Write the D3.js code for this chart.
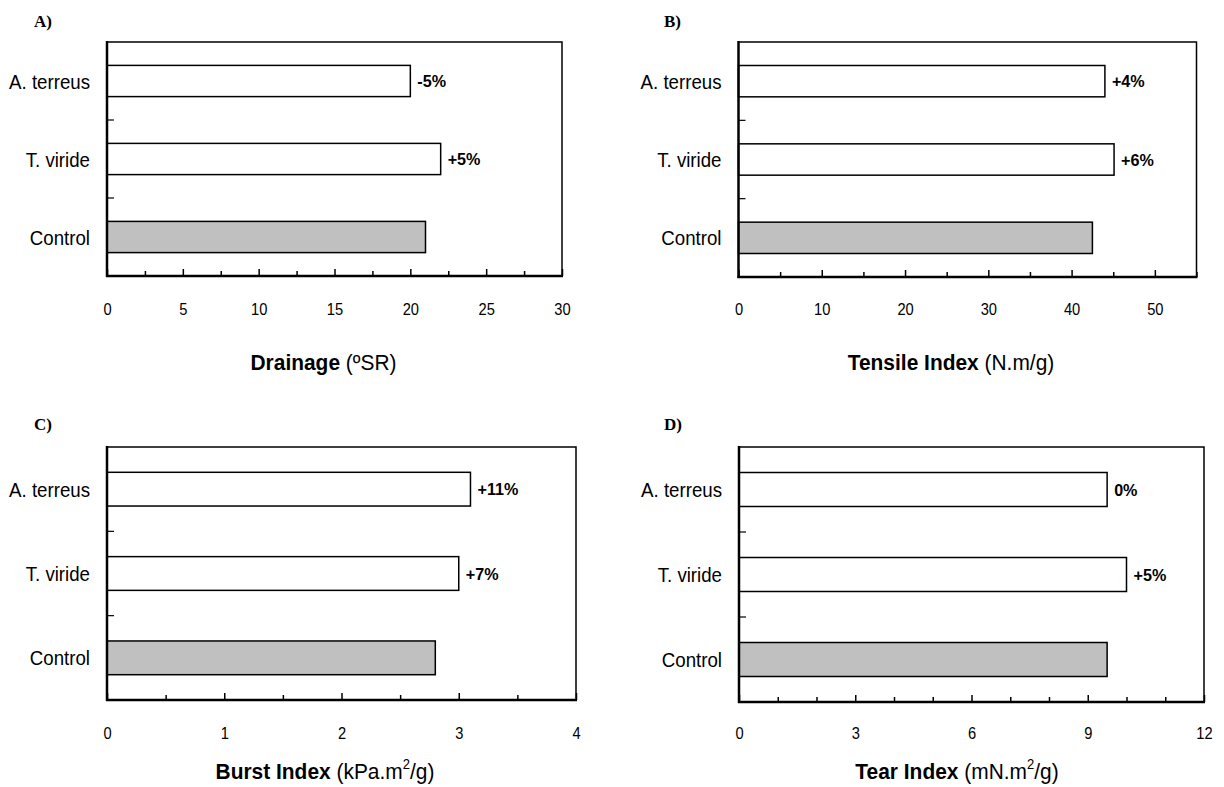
<!DOCTYPE html>
<html>
<head>
<meta charset="utf-8">
<script src="https://cdn.jsdelivr.net/npm/d3@7"></script>
<style>
  html, body { margin: 0; padding: 0; background: #fff; }
  svg { display: block; }
  .narrow { font-family: "Liberation Sans Narrow", "Arial Narrow", "Liberation Sans", Arial, sans-serif; }
  .serif { font-family: "Liberation Serif", "Times New Roman", serif; }
</style>
</head>
<body>
<svg id="chart" width="1224" height="787"></svg>
<script>
// ---------- data ----------
const categories = ["A. terreus", "T. viride", "Control"];

const drainageValues = [20, 22, 21];
const drainageLabels = ["-5%", "+5%", ""];
const drainageTicks = [0, 5, 10, 15, 20, 25, 30];
const drainageMinorStep = 2.5;

const tensileValues = [44.0, 45.1, 42.5];
const tensileLabels = ["+4%", "+6%", ""];
const tensileTicks = [0, 10, 20, 30, 40, 50];
const tensileMax = 55;
const tensileMinorStep = 5;

const burstValues = [3.1, 3.0, 2.8];
const burstLabels = ["+11%", "+7%", ""];
const burstTicks = [0, 1, 2, 3, 4];
const burstMinorStep = 0.5;

const tearValues = [9.5, 10.0, 9.5];
const tearLabels = ["0%", "+5%", ""];
const tearTicks = [0, 3, 6, 9, 12];
const tearMinorStep = 1;

const panelLetters = ["A)", "B)", "C)", "D)"];

// ---------- drawing ----------
const svg = d3.select("#chart");
const SX = 0.89; // horizontal condensing to mimic a narrow sans font

function drawPanel(opt) {
  const g = svg.append("g");
  const { left, right, top, bottom } = opt.box;

  const x = d3.scaleLinear().domain([0, opt.max]).range([left, right]);
  const y = d3.scaleBand().domain(categories).range([top, bottom]).paddingInner(0.6).paddingOuter(0.3);
  const yb = d3.scaleBand().domain(categories).range([top, bottom]);

  // panel letter
  g.append("text").attr("class", "serif")
    .attr("x", opt.letterPos[0]).attr("y", opt.letterPos[1])
    .attr("font-size", 17).attr("font-weight", "bold")
    .text(opt.letter);

  // frame top & right
  g.append("path")
    .attr("d", `M${left},${top}H${right}V${bottom}`)
    .attr("fill", "none").attr("stroke", "#000").attr("stroke-width", 1.5);

  // bars
  g.selectAll("rect.bar").data(opt.values).join("rect")
    .attr("class", "bar")
    .attr("x", x(0))
    .attr("y", (d, i) => y(categories[i]))
    .attr("width", d => x(d) - x(0))
    .attr("height", y.bandwidth())
    .attr("fill", (d, i) => categories[i] === "Control" ? "#c0c0c0" : "#fff")
    .attr("stroke", "#000").attr("stroke-width", 1.5);

  // percentage labels
  g.selectAll("text.pct").data(opt.values).join("text")
    .attr("class", "pct narrow")
    .attr("transform", (d, i) => `translate(${x(d) + 7},${y(categories[i]) + y.bandwidth() / 2}) scale(0.95,1)`)
    .attr("dy", "0.36em")
    .attr("font-size", 17).attr("font-weight", "bold")
    .text((d, i) => opt.labels[i]);

  // x axis (bottom) with inward ticks
  const minor = d3.range(0, opt.max + 1e-9, opt.minorStep);
  const xAxis = d3.axisBottom(x).tickValues(minor).tickSize(0).tickFormat("");
  const ax = g.append("g").attr("transform", `translate(0,${bottom})`);
  ax.call(xAxis);
  ax.select(".domain").remove();
  ax.selectAll(".tick line")
    .attr("y2", d => opt.ticks.some(t => Math.abs(t - d) < 1e-9) ? -7 : -5)
    .attr("stroke", "#000").attr("stroke-width", 1.5);
  // major labels
  const axL = g.append("g").attr("transform", `translate(0,${opt.tickLabelY})`);
  axL.call(d3.axisBottom(x).tickValues(opt.ticks).tickSize(0).tickPadding(0).tickFormat(d3.format("d")));
  axL.select(".domain").remove();
  axL.attr("font-family", null).attr("font-size", null);
  axL.selectAll("text").attr("class", "narrow").attr("font-size", 16.5).attr("fill", "#000")
    .attr("dy", "0.36em").attr("y", 0).attr("transform", `scale(${SX},1)`);

  g.append("line").attr("x1", left - 1).attr("x2", right + 1).attr("y1", bottom).attr("y2", bottom)
    .attr("stroke", "#000").attr("stroke-width", 2.5);

  // y axis (left) with inward ticks at band boundaries
  g.append("line").attr("x1", left).attr("x2", left).attr("y1", top - 1).attr("y2", bottom + 1)
    .attr("stroke", "#000").attr("stroke-width", 2.5);
  g.selectAll("line.ytick").data(categories.slice(1)).join("line")
    .attr("class", "ytick")
    .attr("x1", left).attr("x2", left + 7)
    .attr("y1", d => yb(d)).attr("y2", d => yb(d))
    .attr("stroke", "#000").attr("stroke-width", 1.2);

  // category labels
  g.selectAll("text.cat").data(categories).join("text")
    .attr("class", "cat narrow")
    .attr("transform", d => `translate(${left - 17},${y(d) + y.bandwidth() / 2}) scale(${SX},1)`)
    .attr("dy", "0.36em")
    .attr("text-anchor", "end")
    .attr("font-size", 21)
    .text(d => d);

  // axis title
  const t = g.append("text").attr("class", "narrow")
    .attr("transform", `translate(${opt.titleX},${opt.titleY}) scale(0.93,1)`)
    .attr("text-anchor", "middle").attr("font-size", 22.5);
  t.append("tspan").attr("font-weight", "bold").text(opt.titleBold);
  t.append("tspan").text(" " + opt.titleUnitPre);
  if (opt.titleSup) {
    t.append("tspan").attr("font-size", 14).attr("dy", -10).text(opt.titleSup);
    t.append("tspan").attr("dy", 10).text(opt.titleUnitPost);
  }
}

drawPanel({
  letter: panelLetters[0], letterPos: [34, 27],
  box: { left: 107, right: 562, top: 42, bottom: 276 },
  max: 30, ticks: drainageTicks, minorStep: drainageMinorStep,
  values: drainageValues, labels: drainageLabels,
  tickLabelY: 309, titleX: 323.5, titleY: 370,
  titleBold: "Drainage", titleUnitPre: "(ºSR)"
});
drawPanel({
  letter: panelLetters[1], letterPos: [664, 27],
  box: { left: 738.5, right: 1196.5, top: 42, bottom: 277 },
  max: tensileMax, ticks: tensileTicks, minorStep: tensileMinorStep,
  values: tensileValues, labels: tensileLabels,
  tickLabelY: 309, titleX: 951, titleY: 370,
  titleBold: "Tensile Index", titleUnitPre: "(N.m/g)"
});
drawPanel({
  letter: panelLetters[2], letterPos: [34, 430],
  box: { left: 107, right: 576, top: 447, bottom: 700 },
  max: 4, ticks: burstTicks, minorStep: burstMinorStep,
  values: burstValues, labels: burstLabels,
  tickLabelY: 733, titleX: 325, titleY: 779,
  titleBold: "Burst Index", titleUnitPre: "(kPa.m", titleSup: "2", titleUnitPost: "/g)"
});
drawPanel({
  letter: panelLetters[3], letterPos: [664, 430],
  box: { left: 739, right: 1204, top: 447, bottom: 702 },
  max: 12, ticks: tearTicks, minorStep: tearMinorStep,
  values: tearValues, labels: tearLabels,
  tickLabelY: 733, titleX: 957, titleY: 779,
  titleBold: "Tear Index", titleUnitPre: "(mN.m", titleSup: "2", titleUnitPost: "/g)"
});
</script>
</body>
</html>
